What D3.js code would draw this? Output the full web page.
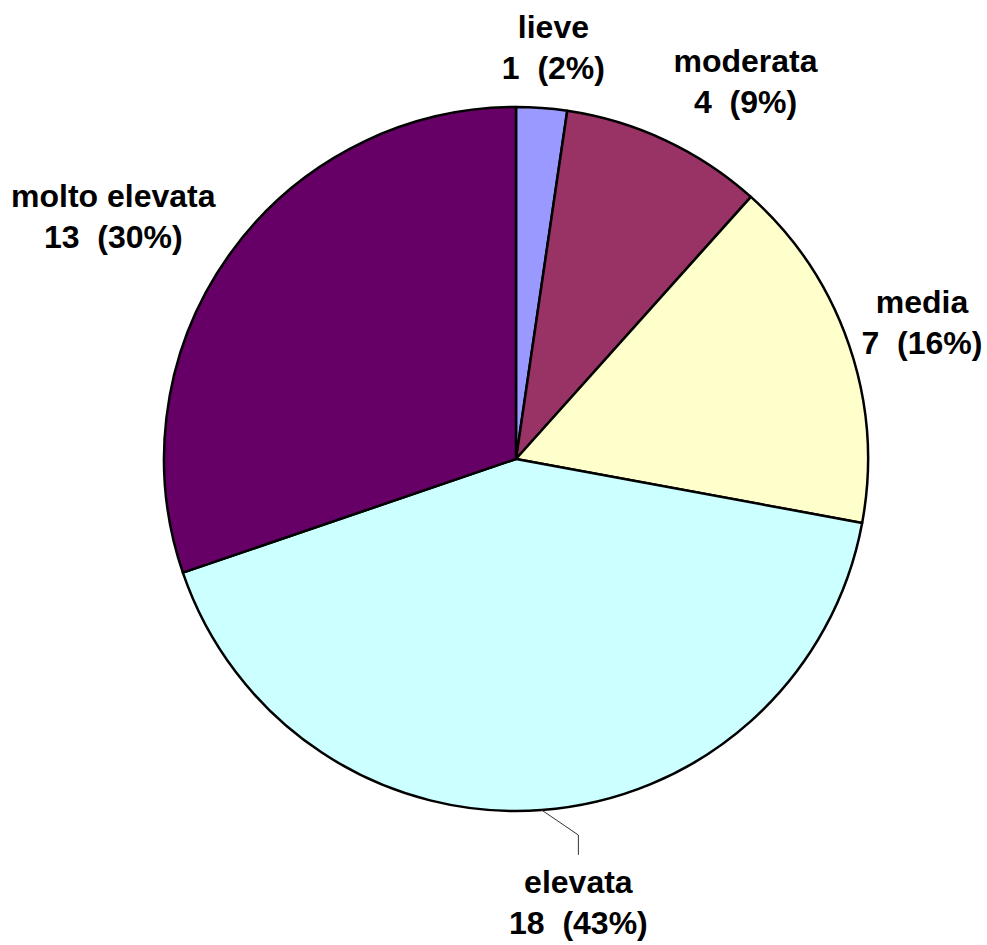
<!DOCTYPE html>
<html>
<head>
<meta charset="utf-8">
<script src="https://cdn.jsdelivr.net/npm/d3@7"></script>
<style>
  body { margin: 0; background: #fff; }
  text { font-family: "Liberation Sans", Arial, sans-serif; font-weight: bold; }
</style>
</head>
<body>
<div class="chart"></div>
<script>
var categories = ['lieve', 'moderata', 'media', 'elevata', 'molto elevata'];
var values = [1, 4, 7, 18, 13];
var percentLabels = ['2%', '9%', '16%', '43%', '30%'];
var colors = ['#9999FF', '#993366', '#FFFFCC', '#CCFFFF', '#660066'];

var width = 987, height = 945;
var cx = 516, cy = 459, radius = 352;
var labelRadius = 430;
// hand placed label nudges (excel moved some of them)
var nudges = [[6, 16], [47, 10], [-1, 1], [31, 13], [-53, 6]];

var svg = d3.select('.chart').append('svg')
  .attr('width', width)
  .attr('height', height);

var g = svg.append('g').attr('transform', 'translate(' + cx + ',' + cy + ')');

var pie = d3.pie().sort(null).value(function(d){ return d; });
var arcs = pie(values);

var arc = d3.arc().innerRadius(0).outerRadius(radius);
var labelArc = d3.arc().innerRadius(labelRadius).outerRadius(labelRadius);

g.selectAll('path.slice')
  .data(arcs)
  .enter()
  .append('path')
  .attr('class', 'slice')
  .attr('d', arc)
  .attr('fill', function(d, i){ return colors[i] })
  .attr('stroke', '#000')
  .attr('stroke-width', 2.5)
  .attr('stroke-linejoin', 'round');

function labelPos(d, i) {
  var c = labelArc.centroid(d);
  return [c[0] + nudges[i][0], c[1] + nudges[i][1]];
}

var labels = g.selectAll('g.label')
  .data(arcs)
  .enter()
  .append('g')
  .attr('class', 'label')
  .attr('transform', function(d, i){
    var p = labelPos(d, i);
    return 'translate(' + p[0] + ',' + p[1] + ')';
  });

labels.append('text')
  .attr('text-anchor', 'middle')
  .attr('y', -8)
  .attr('font-size', 32)
  .text(function(d, i){ return categories[i] });

labels.append('text')
  .attr('text-anchor', 'middle')
  .attr('y', 33)
  .attr('font-size', 32)
  .attr('xml:space', 'preserve')
  .style('white-space', 'pre')
  .text(function(d, i){ return values[i] + '  (' + percentLabels[i] + ')' });

// leader line for the elevata label
var k = 3;
var mid = (arcs[k].startAngle + arcs[k].endAngle) / 2;
var start = [radius * Math.sin(mid), -radius * Math.cos(mid)];
var lp = labelPos(arcs[k], k);
var leader = [start, [lp[0], start[1] + 25], [lp[0], lp[1] - 46]];

g.append('path')
  .attr('d', d3.line()(leader))
  .attr('fill', 'none')
  .attr('stroke', '#333')
  .attr('stroke-width', 1);
</script>
</body>
</html>
